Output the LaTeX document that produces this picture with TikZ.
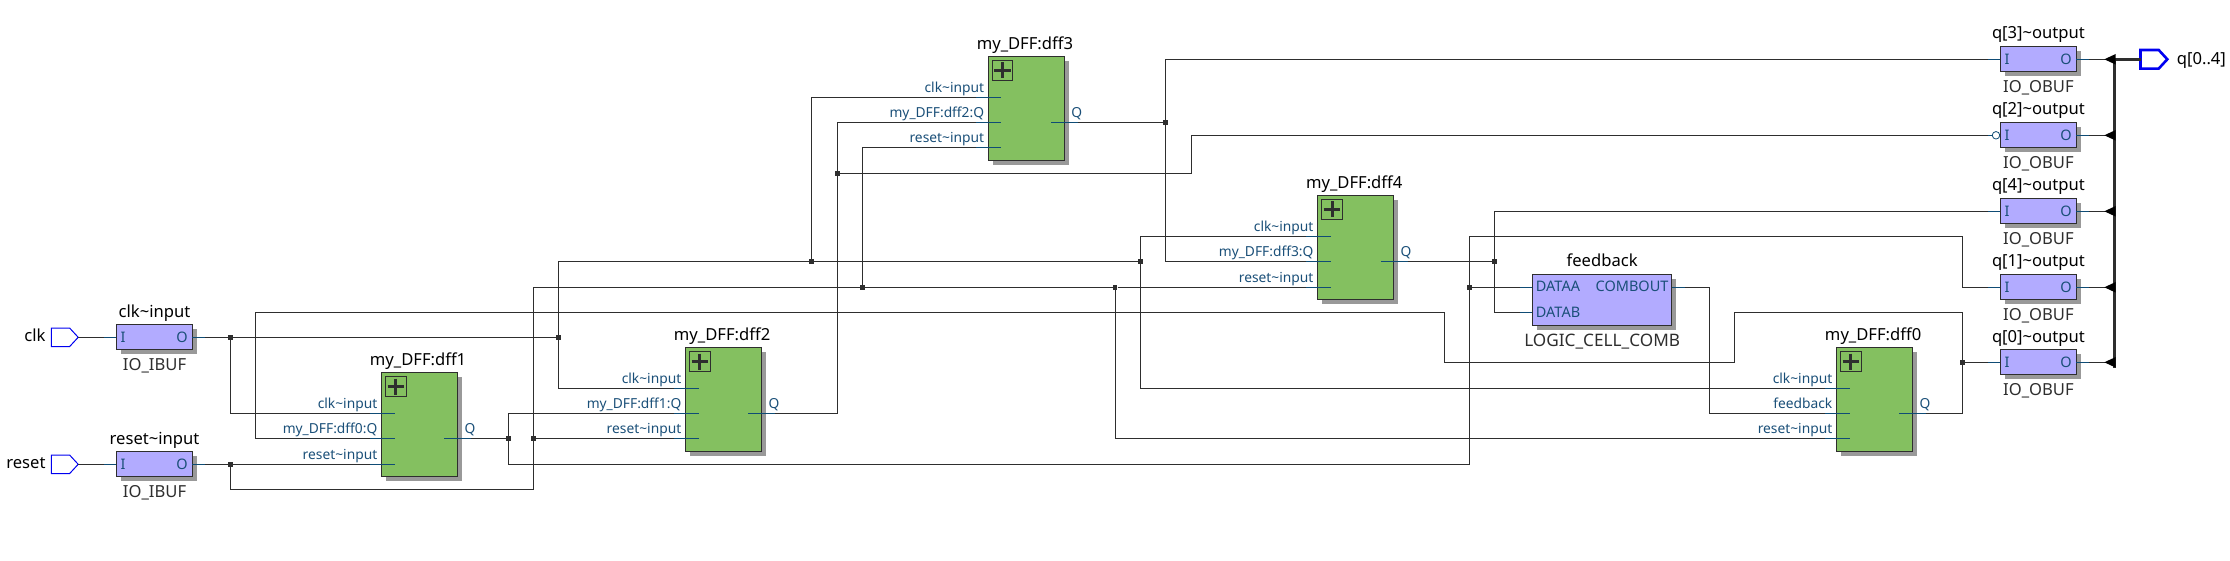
\documentclass[tikz,border=0pt]{standalone}
\usepackage{fontspec}
\setmainfont{Noto Sans}
\usetikzlibrary{positioning}
\usetikzlibrary{shadows}
\usetikzlibrary{arrows.meta}
\definecolor{ffgreen}{HTML}{84C060}
\definecolor{buflilac}{HTML}{B2ABFF}
\definecolor{shadowgray}{HTML}{999999}
\definecolor{wiregray}{HTML}{2E2E2E}
\definecolor{portblue}{HTML}{1A4F78}
\definecolor{stubblue}{HTML}{0F4C75}
\definecolor{pinblue}{HTML}{0000F0}
\newcommand{\tl}{\textasciitilde}
\tikzset{
    wire/.style={line width=1pt, draw=wiregray},
    stubline/.style={line width=1pt, draw=stubblue},
    jdot/.style={rectangle, fill=wiregray, inner sep=0pt, minimum size=4.6pt},
    blockshadow/.style={drop shadow={shadow xshift=4.5pt, shadow yshift=-4.5pt, fill=shadowgray, opacity=1}},
    ffbox/.style={rectangle, draw=wiregray, line width=1.1pt, fill=ffgreen, inner sep=0pt, outer sep=0pt, minimum width=76pt, minimum height=104.4pt, anchor=north west, blockshadow},
    bufbox/.style={rectangle, draw=wiregray, line width=1.1pt, fill=buflilac, inner sep=0pt, outer sep=0pt, minimum width=76.3pt, minimum height=25pt, anchor=north west, blockshadow},
    plusbox/.style={rectangle, draw=wiregray, line width=0.9pt, fill=ffgreen, inner sep=0pt, outer sep=0pt, minimum size=20.4pt, anchor=north west},
    titletext/.style={inner sep=0pt, text depth=0pt, font=\fontsize{16.6}{19}\selectfont, text=black},
    kindtext/.style={inner sep=0pt, text height=11.5pt, text depth=0pt, font=\fontsize{16.6}{19}\selectfont, text=wiregray},
    porttext/.style={inner sep=0pt, font=\fontsize{13.8}{16}\selectfont, text=portblue},
    portletter/.style={inner sep=0pt, font=\fontsize{14.5}{16}\selectfont, text=portblue},
    pinline/.style={draw=pinblue, line width=1pt},
}
\newcommand{\dffblock}[6]{
    \node[ffbox] (#1) at (#2,#3) {};
    \node[titletext, above=6.8pt of #1, xshift=-1.3pt] (#1title) {#4};
    \node[plusbox] (#1plus) at (#2+4.3,#3+4) {};
    \draw[wiregray, line width=3pt] (#1plus.center) +(-8.3,0) -- +(8.3,0) (#1plus.center) +(0,-8) -- +(0,8);
    \coordinate (#1clk) at (#2-11.8,#3+41);
    \coordinate (#1d) at (#2-11.8,#3+66);
    \coordinate (#1rst) at (#2-11.8,#3+#6);
    \coordinate (#1q) at (#2+90,#3+66);
    \draw[stubline] (#1clk) -- ++(25,0);
    \draw[stubline] (#1d) -- ++(25,0);
    \draw[stubline] (#1rst) -- ++(25,0);
    \draw[stubline] (#1q) -- ++(-27,0);
    \node[porttext, anchor=base east] (#1clktext) at (#2-3.9,#3+36.5) {clk\tl input};
    \node[porttext, anchor=base east] (#1dtext) at (#2-3.9,#3+61.5) {#5};
    \node[porttext, anchor=base east] (#1rsttext) at (#2-3.9,#3+#6-4.5) {reset\tl input};
    \node[porttext, anchor=base west] (#1qtext) at (#2+83,#3+61.5) {Q};
}
\newcommand{\iobuf}[5]{
    \node[bufbox] (#1) at (#2,#3) {};
    \node[titletext, above=7.1pt of #1] (#1title) {#4};
    \node[kindtext, below=9.8pt of #1] (#1kind) {#5};
    \coordinate (#1i) at (#2-12.5,#3+13);
    \coordinate (#1o) at (#2+88.5,#3+13);
    \draw[stubline] (#1i) -- ++(12.5,0);
    \draw[stubline] (#1o) -- ++(-12.5,0);
    \node[portletter, anchor=base west] (#1itext) at (#2+4,#3+18) {I};
    \node[portletter, anchor=base east] (#1otext) at (#2+71.5,#3+18) {O};
}
\newcommand{\pinshape}[3]{
    \draw[#3] (#1) -- ++(-8.6,-9.3) -- ++(-18.2,0) -- ++(0,18.6) -- ++(18.2,0) -- cycle;
}
\begin{document}
\begin{tikzpicture}[x=1pt, y=-1pt]
    \useasboundingbox (0,0) rectangle (2230,561);

    \dffblock{dff1}{381.4}{372.3}{my\_DFF:dff1}{my\_DFF:dff0:Q}{92}
    \dffblock{dff2}{685.4}{347.3}{my\_DFF:dff2}{my\_DFF:dff1:Q}{91}
    \dffblock{dff3}{988.2}{56.3}{my\_DFF:dff3}{my\_DFF:dff2:Q}{91}
    \dffblock{dff4}{1317.5}{195.3}{my\_DFF:dff4}{my\_DFF:dff3:Q}{92}
    \dffblock{dff0}{1836.4}{347.3}{my\_DFF:dff0}{feedback}{91}

    \iobuf{clkbuf}{116.4}{324.3}{clk\tl input}{IO\_IBUF}
    \iobuf{rstbuf}{116.4}{451.3}{reset\tl input}{IO\_IBUF}
    \iobuf{obufthree}{2000.3}{46.3}{q[3]\tl output}{IO\_OBUF}
    \iobuf{obuftwo}{2000.3}{122.3}{q[2]\tl output}{IO\_OBUF}
    \iobuf{obuffour}{2000.3}{198.3}{q[4]\tl output}{IO\_OBUF}
    \iobuf{obufone}{2000.3}{274.3}{q[1]\tl output}{IO\_OBUF}
    \iobuf{obufzero}{2000.3}{349.3}{q[0]\tl output}{IO\_OBUF}

    \node[bufbox, minimum width=139.3pt, minimum height=51pt] (fb) at (1532.5,274.3) {};
    \node[titletext, above=7.1pt of fb] (fbtitle) {feedback};
    \node[kindtext, below=9pt of fb, font=\fontsize{17.2}{19}\selectfont] (fbkind) {LOGIC\_CELL\_COMB};
    \coordinate (fbdataa) at (1520.4,287.3);
    \coordinate (fbdatab) at (1520.4,312.3);
    \coordinate (fbcomb) at (1684.6,287.3);
    \draw[stubline] (fbdataa) -- ++(12,0);
    \draw[stubline] (fbdatab) -- ++(12,0);
    \draw[stubline] (fbcomb) -- ++(-13,0);
    \node[portletter] (fbatext) [anchor=base west] at (1535.7,292) {DATAA};
    \node[portletter] (fbbtext) [anchor=base west] at (1535.7,317) {DATAB};
    \node[portletter] (fbctext) [anchor=base east] at (1668.6,292) {COMBOUT};

    \coordinate (clktip) at (78.2,337.3);
    \coordinate (rsttip) at (78.2,464.3);
    \coordinate (qtip) at (2167.3,59.3);
    \pinshape{clktip}{}{pinline}
    \pinshape{rsttip}{}{pinline}
    \pinshape{qtip}{}{pinline, line width=2.6pt}
    \node[titletext, anchor=base east] (clklabel) at (45.7,341.7) {clk};
    \node[titletext, anchor=base east] (rstlabel) at (45.7,468.7) {reset};
    \node[titletext, anchor=base west] (qlabel) at (2176.7,64.3) {q[0..4]};

    \node[jdot] (jclka) at (230.4,337.3) {};
    \node[jdot] (jclkb) at (558.2,337.3) {};
    \node[jdot] (jclkc) at (811.4,261.3) {};
    \node[jdot] (jclkd) at (1140.4,261.3) {};
    \node[jdot] (jrsta) at (230.4,464.3) {};
    \node[jdot] (jrstb) at (533.6,438.3) {};
    \node[jdot] (jrstc) at (862.5,287.3) {};
    \node[jdot] (jrstd) at (1115,287.3) {};
    \node[jdot] (jqone) at (508.6,438.3) {};
    \node[jdot] (jqoneb) at (1469.3,287.3) {};
    \node[jdot] (jqtwo) at (837.5,173.3) {};
    \node[jdot] (jqthree) at (1165.4,122.3) {};
    \node[jdot] (jqfour) at (1494.6,261.3) {};
    \node[jdot] (jqzero) at (1962.4,362.3) {};

    \coordinate (rstlow) at (533.6,489.3);
    \coordinate (qonelow) at (1469.3,464.3);
    \coordinate (qonetop) at (1962.4,236.3);
    \coordinate (qtwobend) at (1191.4,135.3);
    \coordinate (fbbend) at (1709.5,413.3);
    \coordinate (loopa) at (1734.7,312.3);
    \coordinate (loopb) at (1444.6,362.3);
    \coordinate (loopc) at (255.7,312.3);

    \draw[wire] (clktip) -- (clkbufi);
    \draw[wire] (rsttip) -- (rstbufi);
    \draw[wire] (clkbufo) -- (jclka) -- (jclkb);
    \draw[wire] (jclka) |- (dff1clk);
    \draw[wire] (jclkb) |- (dff2clk);
    \draw[wire] (jclkb) |- (jclkc) -- (jclkd);
    \draw[wire] (jclkc) |- (dff3clk);
    \draw[wire] (jclkd) |- (dff4clk);
    \draw[wire] (jclkd) |- (dff0clk);

    \draw[wire] (rstbufo) -- (jrsta) -- (dff1rst);
    \draw[wire] (jrsta) |- (rstlow) -- (jrstb) |- (jrstc) -- (jrstd) -- (dff4rst);
    \draw[wire] (jrstb) -- (dff2rst);
    \draw[wire] (jrstc) |- (dff3rst);
    \draw[wire] (jrstd) |- (dff0rst);

    \draw[wire] (dff1q) -- (jqone);
    \draw[wire] (jqone) |- (dff2d);
    \draw[wire] (jqone) |- (qonelow) -- (jqoneb) |- (qonetop) |- (obufonei);
    \draw[wire] (jqoneb) -- (fbdataa);
    \draw[wire] (dff2q) -| (jqtwo) |- (dff3d);
    \draw[wire] (jqtwo) -| (qtwobend) -- (obuftwoi);
    \draw[wire] (dff3q) -- (jqthree);
    \draw[wire] (jqthree) |- (obufthreei);
    \draw[wire] (jqthree) |- (dff4d);
    \draw[wire] (dff4q) -- (jqfour);
    \draw[wire] (jqfour) |- (fbdatab);
    \draw[wire] (jqfour) |- (obuffouri);
    \draw[wire] (fbcomb) -| (fbbend) -- (dff0d);
    \draw[wire] (dff0q) -| (jqzero) -- (obufzeroi);
    \draw[wire] (jqzero) |- (loopa) |- (loopb) |- (loopc) |- (dff1d);

    \node[circle, draw=stubblue, fill=white, line width=0.8pt, inner sep=0pt, minimum size=7.5pt] (invq) at (1996,135.3) {};

    \coordinate (busthree) at (2114.3,59.3);
    \coordinate (bustwo) at (2114.3,135.3);
    \coordinate (busfour) at (2114.3,211.3);
    \coordinate (busone) at (2114.3,287.3);
    \coordinate (buszero) at (2114.3,362.3);
    \coordinate (busend) at (2114.3,367.7);
    \coordinate (qpin) at (2140.5,59.3);
    \draw[wire] (obufthreeo) -- (busthree);
    \draw[wire] (obuftwoo) -- (bustwo);
    \draw[wire] (obuffouro) -- (busfour);
    \draw[wire] (obufoneo) -- (busone);
    \draw[wire] (obufzeroo) -- (buszero);
    \draw[wire, line width=3pt] (busthree) -- (busend);
    \draw[wire, line width=3pt] (busthree) -- (qpin);
    \fill[black] (busthree) ++(1.4,-5.3) -- ++(-11.4,5.3) -- ++(11.4,5.3) -- cycle;
    \fill[black] (bustwo) ++(1.4,-5.3) -- ++(-11.4,5.3) -- ++(11.4,5.3) -- cycle;
    \fill[black] (busfour) ++(1.4,-5.3) -- ++(-11.4,5.3) -- ++(11.4,5.3) -- cycle;
    \fill[black] (busone) ++(1.4,-5.3) -- ++(-11.4,5.3) -- ++(11.4,5.3) -- cycle;
    \fill[black] (buszero) ++(1.4,-5.3) -- ++(-11.4,5.3) -- ++(11.4,5.3) -- cycle;
\end{tikzpicture}
\end{document}
